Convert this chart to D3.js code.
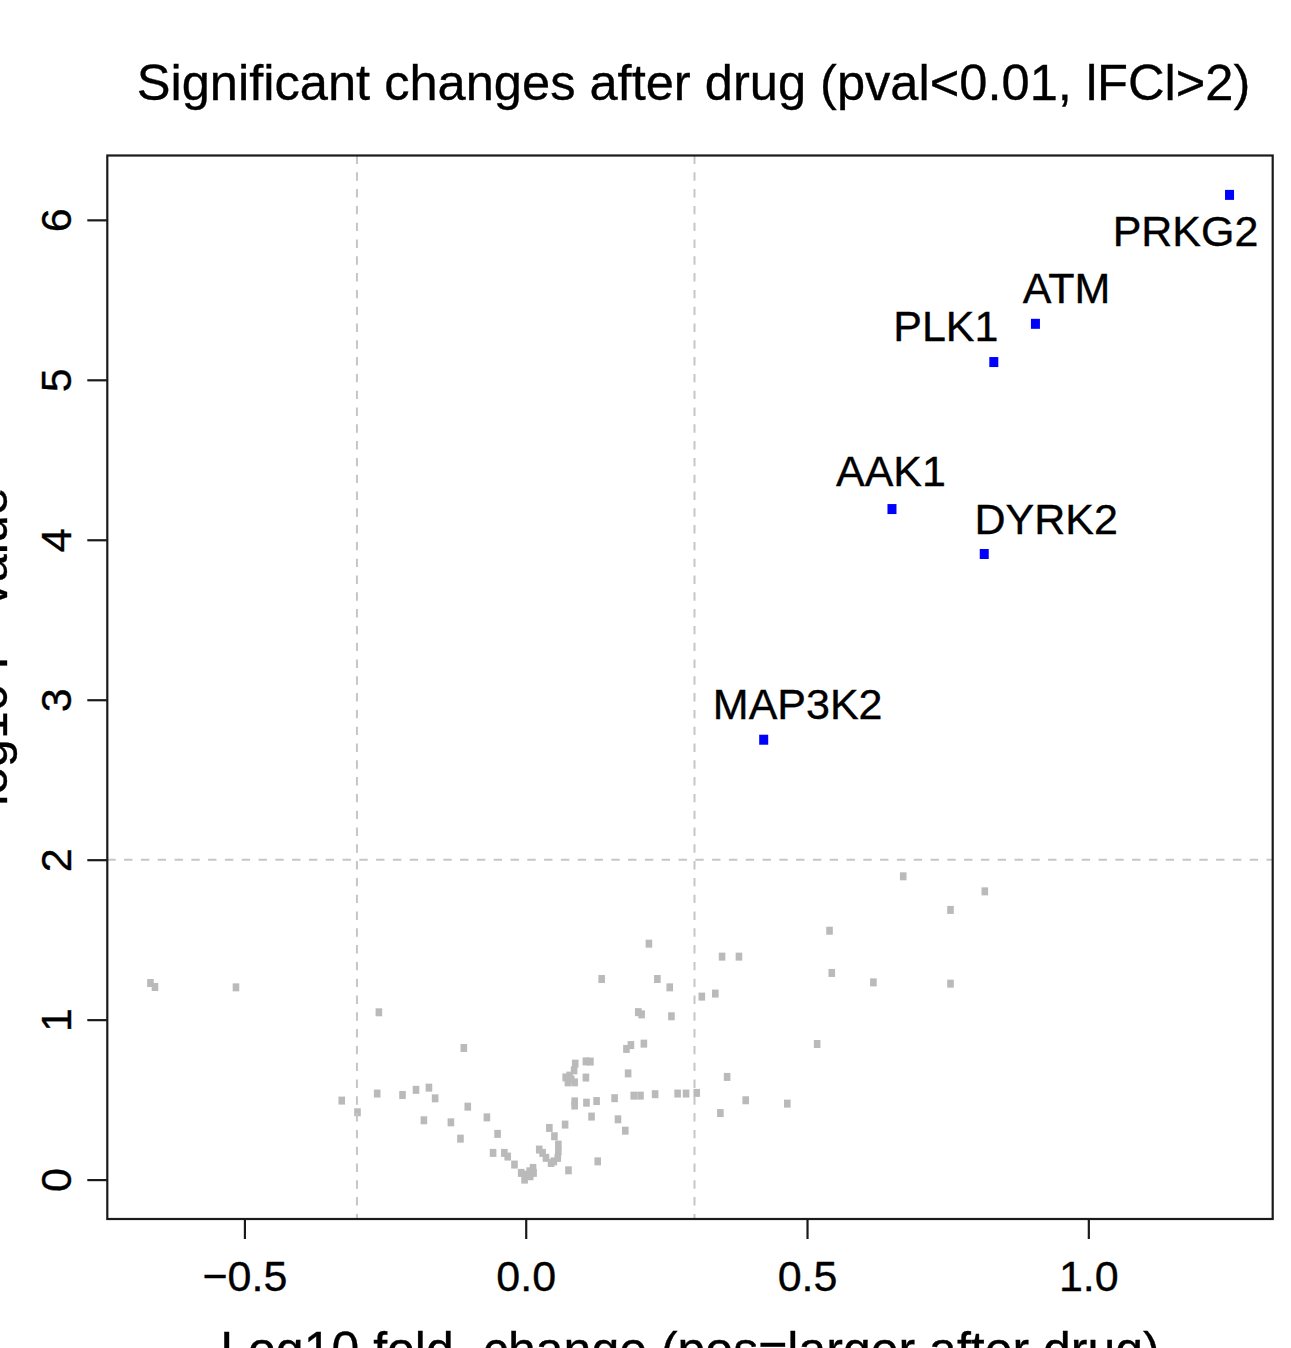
<!DOCTYPE html>
<html>
<head>
<meta charset="utf-8">
<script src="https://cdn.jsdelivr.net/npm/d3@7"></script>
<style>
  html, body { margin: 0; padding: 0; background: #ffffff; }
  svg { display: block; }
  text { font-family: "Liberation Sans", Arial, Helvetica, sans-serif; fill: #000; stroke: #000; stroke-width: 0.35; }
</style>
</head>
<body>
<svg id="chart" width="1291" height="1348"></svg>
<script>
// ---------------- data ----------------
const titleText = "Significant changes after drug (pval<0.01, lFCl>2)";
const xLabel = "Log10 fold\u2212change (pos=larger after drug)";
const yLabel = "\u2212log10 P\u2212value";

const xTicks = [-0.5, 0.0, 0.5, 1.0];
const xTickLabels = ["\u22120.5", "0.0", "0.5", "1.0"];
const yTicks = [0, 1, 2, 3, 4, 5, 6];
const yTickLabels = ["0", "1", "2", "3", "4", "5", "6"];

const fcCutoff = 0.3;   // log10(2)
const pCutoff = 2;      // -log10(0.01)

// significant genes
const sigGenes = ["PRKG2", "ATM", "PLK1", "AAK1", "DYRK2", "MAP3K2"];
const sigFC    = [1.251, 0.906, 0.832, 0.651, 0.815, 0.423];
const sigP     = [6.156, 5.350, 5.111, 4.192, 3.911, 2.750];

// non-significant genes
const bgFC = [
  -0.667, -0.659, -0.515, -0.261, -0.110, -0.327, -0.299, -0.264, -0.219, -0.195,
  -0.172, -0.161, -0.181, -0.133, -0.103, -0.116, -0.069, -0.050, -0.058, -0.038,
  -0.032, -0.020, -0.008, -0.002, 0.001, 0.007, 0.013, 0.014, 0.008, 0.024,
  0.030, 0.036, 0.045, 0.050, 0.057, 0.058, 0.058, 0.051, 0.042, 0.070,
  0.076, 0.087, 0.087, 0.108, 0.126, 0.117, 0.128, 0.158, 0.164, 0.177,
  0.192, 0.204, 0.230, 0.270, 0.285, 0.304, 0.182, 0.071, 0.075, 0.081,
  0.087, 0.078, 0.086, 0.088, 0.107, 0.107, 0.115, 0.179, 0.187, 0.210,
  0.200, 0.206, 0.259, 0.135, 0.234, 0.256, 0.219, 0.313, 0.337, 0.349,
  0.379, 0.358, 0.391, 0.346, 0.465, 0.518, 0.540, 0.544, 0.618, 0.671,
  0.816, 0.755, 0.755
];
const bgP = [
  1.229, 1.204, 1.202, 1.046, 0.823, 0.494, 0.421, 0.538, 0.529, 0.561,
  0.575, 0.508, 0.371, 0.358, 0.456, 0.256, 0.389, 0.286, 0.167, 0.167,
  0.144, 0.094, 0.042, 0.000, 0.031, 0.052, 0.073, 0.042, 0.021, 0.188,
  0.167, 0.136, 0.104, 0.114, 0.136, 0.177, 0.219, 0.271, 0.323, 0.344,
  0.058, 0.489, 0.463, 0.481, 0.491, 0.394, 0.114, 0.509, 0.377, 0.306,
  0.525, 0.525, 0.534, 0.538, 0.538, 0.542, 0.664, 0.639, 0.608, 0.625,
  0.608, 0.650, 0.683, 0.725, 0.638, 0.739, 0.738, 0.817, 0.841, 0.850,
  1.047, 1.033, 1.021, 1.254, 1.254, 1.202, 1.475, 1.144, 1.163, 1.394,
  1.394, 0.642, 0.496, 0.416, 0.475, 0.848, 1.556, 1.292, 1.233, 1.896,
  1.802, 1.686, 1.225
];

// label placement (pixel offsets of label centre/baseline from the point)
const labelOffsets = [[-44, 51], [31, -21], [-48, -21], [-1, -23], [62, -20], [34, -21]];

// ---------------- layout ----------------
const W = 1291, H = 1348;
const plot = { left: 107.3, right: 1272.7, top: 155.5, bottom: 1219 };

const allFC = bgFC.concat(sigFC);
const allP = bgP.concat(sigP);
function ext(arr) {
  const [a, b] = d3.extent(arr);
  const pad = (b - a) * 0.04;
  return [a - pad, b + pad];
}

const x = d3.scaleLinear().domain(ext(allFC)).range([plot.left, plot.right]);
const y = d3.scaleLinear().domain(ext(allP)).range([plot.bottom, plot.top]);

const svg = d3.select("#chart");
svg.append("rect").attr("width", W).attr("height", H).attr("fill", "#fff");

svg.append("clipPath").attr("id", "clip")
  .append("rect")
  .attr("x", plot.left).attr("y", plot.top)
  .attr("width", plot.right - plot.left).attr("height", plot.bottom - plot.top);

const plotG = svg.append("g").attr("clip-path", "url(#clip)");

// background points
const bg = bgFC.map((d, i) => ({ fc: d, p: bgP[i] }));
plotG.selectAll("rect.bg").data(bg).enter().append("rect")
  .attr("class", "bg")
  .attr("x", d => x(d.fc) - 3.3)
  .attr("y", d => y(d.p) - 4)
  .attr("width", 6.6).attr("height", 8)
  .attr("fill", "#bababa");

// threshold lines
const dashStyle = { stroke: "#c6c6c6", width: 2, dash: "8.4,8.4" };
[-fcCutoff, fcCutoff].forEach(v => {
  plotG.append("line")
    .attr("x1", x(v)).attr("x2", x(v))
    .attr("y1", plot.top).attr("y2", plot.bottom)
    .attr("stroke", dashStyle.stroke).attr("stroke-width", dashStyle.width)
    .attr("stroke-dasharray", dashStyle.dash);
});
plotG.append("line")
  .attr("x1", plot.left).attr("x2", plot.right)
  .attr("y1", y(pCutoff)).attr("y2", y(pCutoff))
  .attr("stroke", dashStyle.stroke).attr("stroke-width", dashStyle.width)
  .attr("stroke-dasharray", dashStyle.dash);

// significant points
const sig = sigGenes.map((g, i) => ({ gene: g, fc: sigFC[i], p: sigP[i], off: labelOffsets[i] }));
plotG.selectAll("rect.sig").data(sig).enter().append("rect")
  .attr("class", "sig")
  .attr("x", d => x(d.fc) - 4.5)
  .attr("y", d => y(d.p) - 5)
  .attr("width", 9).attr("height", 10)
  .attr("fill", "#0000ff");

svg.selectAll("text.lab").data(sig).enter().append("text")
  .attr("class", "lab")
  .attr("x", d => x(d.fc) + d.off[0])
  .attr("y", d => y(d.p) + d.off[1])
  .attr("text-anchor", "middle")
  .attr("font-size", 43)
  .text(d => d.gene);

// frame
svg.append("rect")
  .attr("x", plot.left).attr("y", plot.top)
  .attr("width", plot.right - plot.left).attr("height", plot.bottom - plot.top)
  .attr("fill", "none").attr("stroke", "#1a1a1a").attr("stroke-width", 2.2);

// x axis
const xAxis = d3.axisBottom(x).tickValues(xTicks).tickSize(20).tickPadding(21.5)
  .tickFormat((d, i) => xTickLabels[i]);
const xg = svg.append("g").attr("transform", `translate(0,${plot.bottom})`).call(xAxis);
xg.select(".domain").remove();
xg.selectAll(".tick line").attr("stroke", "#1a1a1a").attr("stroke-width", 2.2);
xg.selectAll(".tick text")
  .attr("font-size", 43)
  .attr("font-family", "Liberation Sans, Arial, Helvetica, sans-serif")
  .attr("fill", "#000");

// y axis
const yAxis = d3.axisLeft(y).tickValues(yTicks).tickSize(20)
  .tickFormat((d, i) => yTickLabels[i]);
const yg = svg.append("g").attr("transform", `translate(${plot.left},0)`).call(yAxis);
yg.select(".domain").remove();
yg.selectAll(".tick line").attr("stroke", "#1a1a1a").attr("stroke-width", 2.2);
yg.selectAll(".tick text")
  .attr("x", null).attr("dy", null)
  .attr("text-anchor", "middle")
  .attr("transform", `translate(${71 - plot.left},0) rotate(-90)`)
  .attr("font-size", 43)
  .attr("font-family", "Liberation Sans, Arial, Helvetica, sans-serif")
  .attr("fill", "#000");

// title
svg.append("text")
  .attr("x", 693.5).attr("y", 100)
  .attr("text-anchor", "middle")
  .attr("font-size", 50.6)
  .text(titleText);

// axis labels
svg.append("text")
  .attr("x", (plot.left + plot.right) / 2).attr("y", 1367)
  .attr("text-anchor", "middle")
  .attr("font-size", 50)
  .text(xLabel);

svg.append("text")
  .attr("transform", `translate(7,${(plot.top + plot.bottom) / 2 - 26}) rotate(-90)`)
  .attr("text-anchor", "middle")
  .attr("font-size", 50)
  .text(yLabel);
</script>
</body>
</html>
